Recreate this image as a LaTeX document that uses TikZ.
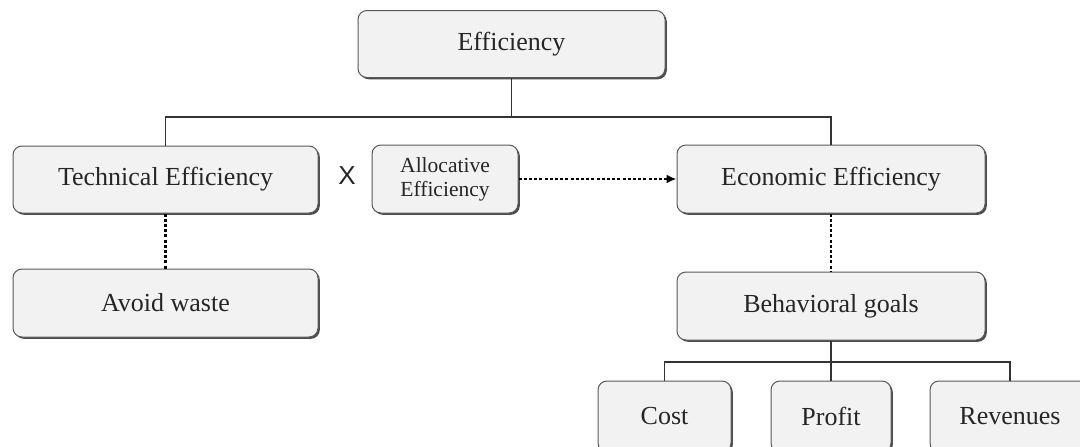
\documentclass[tikz,border=0pt]{standalone}
\usepackage{fontspec}
\setmainfont{Liberation Serif}
\newfontfamily\xfont{Liberation Sans}
\usetikzlibrary{shadows,arrows.meta}
\begin{document}
\begin{tikzpicture}[x=1pt,y=-1pt,
  box/.style={draw=black!65, line width=1pt, fill=black!5, rounded corners=9pt,
    drop shadow={shadow xshift=1.8pt, shadow yshift=-1.8pt, fill=black!70, opacity=1},
    font=\fontsize{26}{28}\selectfont, text=black!85, inner sep=0pt, align=center},
  smallbox/.style={box, font=\fontsize{21.5}{24}\selectfont},
  link/.style={draw=black!80, line width=1.8pt},
  dotlink/.style={draw=black, line width=2.8pt, dash pattern=on 3pt off 2.2pt}]
\clip (0,0) rectangle (1080,447);
\useasboundingbox (0,0) rectangle (1080,447);
\fill[white] (0,0) rectangle (1080,447);

\node[box, minimum width=307pt, minimum height=67pt] (eff) at (511.5,44) {Efficiency};
\node[box, minimum width=305pt, minimum height=67pt] (tech) at (165.5,179.5) {Technical Efficiency};
\node[box, minimum width=305pt, minimum height=68pt] (avoid) at (165.5,303) {Avoid waste};
\node[font=\xfont\fontsize{26}{28}\selectfont, text=black!85, inner sep=0pt] (x) at (347,176) {X};
\node[smallbox, minimum width=146pt, minimum height=68pt] (alloc) at (445,179) {Allocative\\Efficiency};
\node[box, minimum width=308pt, minimum height=68pt] (econ) at (831,179) {Economic Efficiency};
\node[box, minimum width=308pt, minimum height=68pt] (behav) at (831,306) {Behavioral goals};
\node[box, minimum width=133pt, minimum height=71pt] (cost) at (664.5,416.5) {Cost};
\node[box, minimum width=120pt, minimum height=71pt] (profit) at (831,416.5) {Profit};
\node[box, minimum width=160pt, minimum height=71pt] (rev) at (1010,416.5) {Revenues};

\coordinate (bar) at (511.5,117);
\coordinate (bar2) at (831,362);
\draw[link] (eff.south) -- (bar);
\draw[link] (tech.north) |- (bar) -| (econ.north);
\draw[link] (behav.south) -- (bar2);
\draw[link] (cost.north) |- (bar2) -| (rev.north);
\draw[link] (bar2) -- (profit.north);

\draw[dotlink] (tech.south) -- (avoid.north);
\draw[dotlink] (econ.south) -- (behav.north);
\draw[dotlink, -{Latex[length=10pt,width=9pt]}] (alloc.east) -- (econ.west);
\end{tikzpicture}
\end{document}
